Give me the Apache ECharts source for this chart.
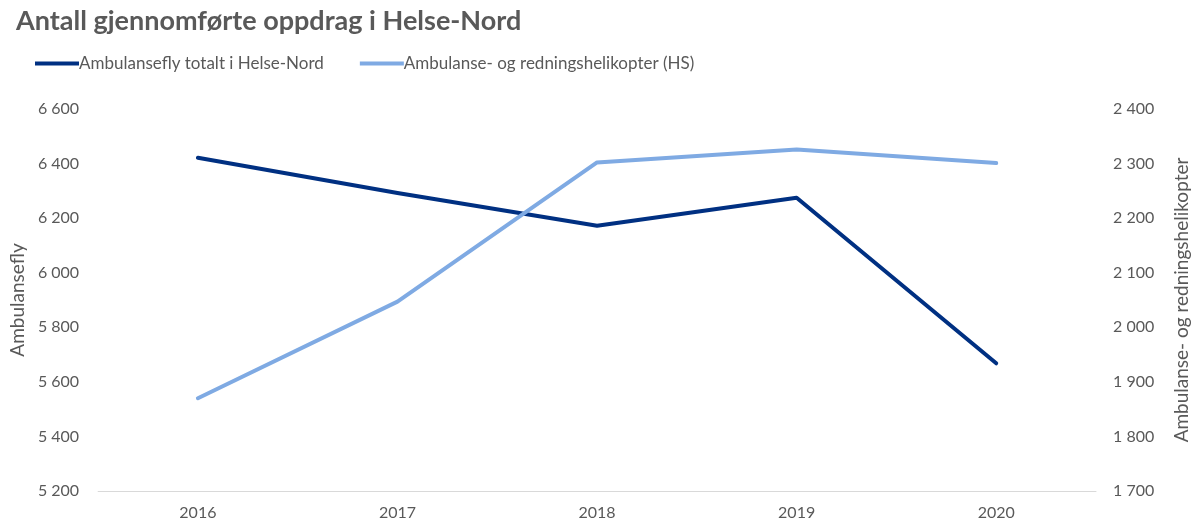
<!DOCTYPE html>
<html>
<head>
<meta charset="utf-8">
<script src="https://cdn.jsdelivr.net/npm/echarts@6/dist/echarts.min.js"></script>
<style>
  html, body { margin: 0; padding: 0; background: #fff; }
  #main { width: 1199px; height: 524px; }
</style>
</head>
<body>
<div id="main"></div>
<script>
// data
var years = ['2016', '2017', '2018', '2019', '2020'];
var ambulansefly = [6421, 6292, 6172, 6275, 5668];
var helikopter = [1870, 2047, 2302, 2326, 2301];

var font = 'Lato, "Open Sans", sans-serif';
var grey = '#595959';

function spaced(v) {
  return String(v).replace(/\B(?=(\d{3})+(?!\d))/g, ' ');
}

var chart = echarts.init(document.getElementById('main'));

var option = {
  animation: false,
  title: {
    text: 'Antall gjennomførte oppdrag i Helse-Nord',
    left: 11,
    top: 3,
    textStyle: { fontFamily: font, fontSize: 27, fontWeight: 'bold', color: grey }
  },
  legend: {
    left: 30,
    top: 50,
    itemWidth: 44,
    itemHeight: 4,
    itemGap: 36,
    icon: 'rect',
    textStyle: { fontFamily: font, fontSize: 17, color: grey, padding: [0, 0, 0, -5] },
    data: ['Ambulansefly totalt i Helse-Nord', 'Ambulanse- og redningshelikopter (HS)']
  },
  grid: { left: 94, right: 93, top: 109, bottom: 33 },
  xAxis: {
    type: 'category',
    data: years,
    axisLine: { lineStyle: { color: '#d9d9d9', width: 1 } },
    axisTick: { show: false },
    axisLabel: { fontFamily: font, fontSize: 16, color: grey, margin: 14 }
  },
  yAxis: [
    {
      type: 'value',
      min: 5200, max: 6600, interval: 200,
      name: 'Ambulansefly',
      nameLocation: 'middle',
      nameGap: 67,
      nameTextStyle: { fontFamily: font, fontSize: 19, color: grey },
      splitLine: { show: false },
      axisLine: { show: false },
      axisTick: { show: false },
      axisLabel: { fontFamily: font, fontSize: 16, color: grey, margin: 19, formatter: spaced }
    },
    {
      type: 'value',
      min: 1700, max: 2400, interval: 100,
      name: 'Ambulanse- og redningshelikopter',
      nameLocation: 'middle',
      nameGap: 76,
      nameRotate: 90,
      nameTextStyle: { fontFamily: font, fontSize: 19, color: grey },
      splitLine: { show: false },
      axisLine: { show: false },
      axisTick: { show: false },
      axisLabel: { fontFamily: font, fontSize: 16, color: grey, margin: 17, formatter: spaced }
    }
  ],
  series: [
    {
      name: 'Ambulansefly totalt i Helse-Nord',
      type: 'line',
      yAxisIndex: 0,
      data: ambulansefly,
      symbol: 'none',
      color: '#003082',
      lineStyle: { width: 4, cap: 'round', join: 'round' }
    },
    {
      name: 'Ambulanse- og redningshelikopter (HS)',
      type: 'line',
      yAxisIndex: 1,
      data: helikopter,
      symbol: 'none',
      color: '#7faae3',
      lineStyle: { width: 4, cap: 'round', join: 'round' }
    }
  ]
};

chart.setOption(option);
</script>
</body>
</html>
